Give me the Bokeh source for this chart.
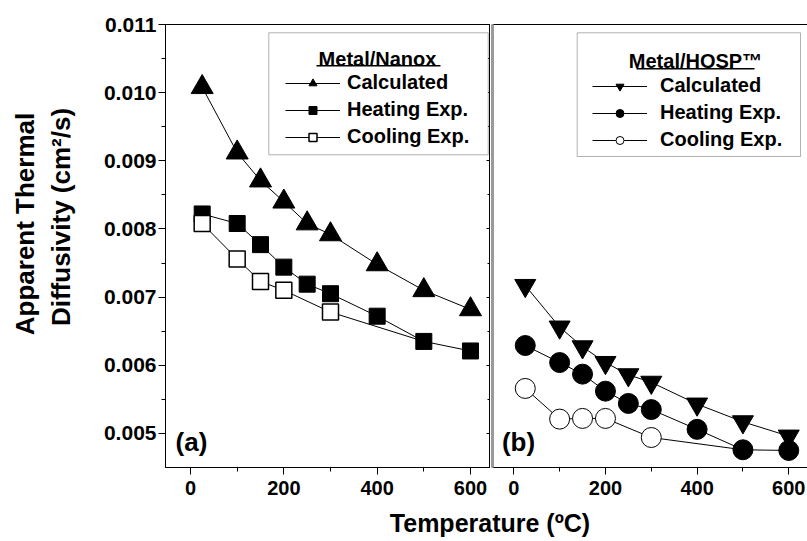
from bokeh.plotting import figure
from bokeh.models import (Range1d, FixedTicker, LinearAxis, NumeralTickFormatter, Legend, LegendItem,
                          Label, BoxAnnotation, ColumnDataSource, CDSView, IndexFilter, Div,
                          CustomJSTickFormatter)
from bokeh.layouts import row, column
from bokeh.embed import file_html
from bokeh.resources import INLINE
import math

FONT = "Liberation Sans"

# ---------------- data ----------------
# Panel (a): Metal/Nanox
temp_a_calc = [25, 100, 150, 200, 250, 300, 400, 500, 600]
diff_a_calc = [0.01008, 0.00912, 0.00871, 0.00840, 0.00808, 0.00792, 0.00748, 0.00710, 0.00682]
temp_a_heat = [25, 100, 150, 200, 250, 300, 400, 500, 600]
diff_a_heat = [0.00822, 0.00808, 0.00777, 0.00744, 0.00719, 0.00705, 0.00672, 0.00635, 0.00621]
temp_a_cool = [25, 100, 150, 200, 300, 500]
diff_a_cool = [0.00808, 0.00756, 0.00723, 0.00710, 0.00678, 0.00635]

# Panel (b): Metal/HOSP
temp_b_calc = [25, 100, 150, 200, 250, 300, 400, 500, 600]
diff_b_calc = [0.00717, 0.00656, 0.00627, 0.00604, 0.00586, 0.00575, 0.00543, 0.00517, 0.00496]
temp_b_heat = [25, 100, 150, 200, 250, 300, 400, 500, 600]
diff_b_heat = [0.00629, 0.00604, 0.00587, 0.00562, 0.00544, 0.00535, 0.00506, 0.00476, 0.00475]
temp_b_cool = [25, 100, 150, 200, 300, 500]
diff_b_cool = [0.00566, 0.00521, 0.00522, 0.00522, 0.00494, 0.00476]

series_labels = ["Calculated", "Heating Exp.", "Cooling Exp."]
legend_title_a = "Metal/Nanox"
legend_title_b = "Metal/HOSP\u2122"
panel_label_a = "(a)"
panel_label_b = "(b)"
x_title = "Temperature (\u00baC)"
y_title_lines = ["Apparent Thermal", "Diffusivity (cm\u00b2/s)"]

x_ticks = [0, 200, 400, 600]
x_minor = [100, 300, 500]
y_ticks = [0.005, 0.006, 0.007, 0.008, 0.009, 0.010, 0.011]
y_minor = [0.0055, 0.0065, 0.0075, 0.0085, 0.0095, 0.0105]

# ---------------- helpers ----------------
def style_axis(ax, major_out=7, minor_out=4, major_in=0, minor_in=0, size="20px"):
    ax.axis_line_color = "black"
    ax.axis_line_width = 1
    ax.major_tick_line_color = "black"
    ax.minor_tick_line_color = "black"
    ax.major_tick_out = major_out
    ax.minor_tick_out = minor_out
    ax.major_tick_in = major_in
    ax.minor_tick_in = minor_in
    ax.major_label_text_font = FONT
    ax.major_label_text_font_style = "bold"
    ax.major_label_text_font_size = size
    ax.major_label_text_color = "black"


def screen_box(left, right, top, bottom, **kw):
    return BoxAnnotation(left=left, right=right, top=top, bottom=bottom,
                         left_units="screen", right_units="screen",
                         top_units="screen", bottom_units="screen", **kw)


def screen_label(x, y, text, size, angle=0):
    return Label(x=x, y=y, x_units="screen", y_units="screen", text=text, angle=angle,
                 text_align="center", text_baseline="middle", text_font=FONT,
                 text_font_style="bold", text_font_size=size, text_color="black")


blank = CustomJSTickFormatter(code="return ''")
y_rng = Range1d(0.0045, 0.011)

# ---------------- y-axis title strip ----------------
p0 = figure(width=84, height=505, output_backend="svg", toolbar_location=None,
            x_axis_location=None, y_axis_location=None, min_border=0)
p0.grid.visible = False
p0.outline_line_color = None
p0.background_fill_color = "white"
p0.border_fill_color = "white"
p0.add_layout(screen_label(24, 243.5, y_title_lines[0], "26px", angle=math.pi / 2))
p0.add_layout(screen_label(60, 250.5, y_title_lines[1], "26px", angle=math.pi / 2))

# ---------------- panel (a) ----------------
p1 = figure(width=406, height=505, x_range=Range1d(-53.6, 642.9), y_range=y_rng,
            output_backend="svg", toolbar_location=None,
            min_border_left=81, min_border_right=0, min_border_top=24, min_border_bottom=38)
p1.grid.visible = False
p1.outline_line_color = "black"
p1.outline_line_width = 1
p1.background_fill_color = "white"
p1.border_fill_color = "white"

p1.xaxis.ticker = FixedTicker(ticks=x_ticks, minor_ticks=x_minor)
style_axis(p1.xaxis[0])
p1.xaxis.major_label_standoff = 6
p1.yaxis.ticker = FixedTicker(ticks=y_ticks, minor_ticks=y_minor)
p1.yaxis.formatter = NumeralTickFormatter(format="0.000")
style_axis(p1.yaxis[0], size="21px")
p1.yaxis.major_label_standoff = 2

ax_r = LinearAxis(ticker=FixedTicker(ticks=y_ticks, minor_ticks=y_minor), formatter=blank,
                  major_label_standoff=0)
style_axis(ax_r, major_out=0, minor_out=0, major_in=4, minor_in=3)
p1.add_layout(ax_r, "right")

src_a_calc = ColumnDataSource(dict(x=temp_a_calc, y=diff_a_calc))
src_a_heat = ColumnDataSource(dict(x=temp_a_heat, y=diff_a_heat))
src_a_cool = ColumnDataSource(dict(x=temp_a_cool, y=diff_a_cool))

la1 = p1.line("x", "y", source=src_a_calc, line_color="black", line_width=1)
la2 = p1.line("x", "y", source=src_a_heat, line_color="black", line_width=1)
la3 = p1.line("x", "y", source=src_a_cool, line_color="black", line_width=1)
sa1 = p1.scatter("x", "y", source=src_a_calc, marker="triangle", size=22,
                 fill_color="black", line_color="black")
sa2 = p1.scatter("x", "y", source=src_a_heat, marker="square", size=16,
                 fill_color="black", line_color="black")
sa3 = p1.scatter("x", "y", source=src_a_cool, marker="square", size=16,
                 fill_color="white", line_color="black", line_width=1.5,
                 view=CDSView(filter=IndexFilter(list(range(len(temp_a_cool) - 1)))))

p1.add_layout(screen_box(103.3, 322.7, 434.7, 312.7, fill_color="white", fill_alpha=1,
                         line_color="black", line_width=1))
p1.add_layout(screen_label(212, 409, legend_title_a, "20px"))
p1.add_layout(screen_box(151, 275, 402.5, 401, fill_color="black", fill_alpha=1, line_color=None))
leg_a = Legend(items=[LegendItem(label=series_labels[0], renderers=[la1, sa1]),
                      LegendItem(label=series_labels[1], renderers=[la2, sa2]),
                      LegendItem(label=series_labels[2], renderers=[la3, sa3])],
               location=(120, 319), orientation="vertical", padding=0, margin=0, spacing=4,
               glyph_width=55, glyph_height=20, label_standoff=7, label_height=20,
               border_line_color=None, background_fill_alpha=0,
               label_text_font=FONT, label_text_font_style="bold",
               label_text_font_size="20px", label_text_color="black")
p1.add_layout(leg_a)
p1.add_layout(screen_label(26, 26, panel_label_a, "26px"))

# ---------------- panel (b) ----------------
p2 = figure(width=317, height=505, x_range=Range1d(-46.5, 640.9), y_range=y_rng,
            output_backend="svg", toolbar_location=None,
            min_border_left=2, min_border_right=0, min_border_top=24, min_border_bottom=38)
p2.grid.visible = False
p2.outline_line_color = None
p2.background_fill_color = "white"
p2.border_fill_color = "white"

p2.xaxis.ticker = FixedTicker(ticks=x_ticks, minor_ticks=x_minor)
style_axis(p2.xaxis[0])
p2.xaxis.major_label_standoff = 6
p2.yaxis.ticker = FixedTicker(ticks=[], minor_ticks=[])
p2.yaxis.formatter = blank
p2.yaxis.axis_line_color = "#9a9a9a"
p2.yaxis.axis_line_width = 3
p2.yaxis.major_label_standoff = 0
ax_top = LinearAxis(ticker=FixedTicker(ticks=[], minor_ticks=[]), formatter=blank,
                    axis_line_color="black", axis_line_width=1, major_label_standoff=0)
p2.add_layout(ax_top, "above")

src_b_calc = ColumnDataSource(dict(x=temp_b_calc, y=diff_b_calc))
src_b_heat = ColumnDataSource(dict(x=temp_b_heat, y=diff_b_heat))
src_b_cool = ColumnDataSource(dict(x=temp_b_cool, y=diff_b_cool))

lb1 = p2.line("x", "y", source=src_b_calc, line_color="black", line_width=1)
lb2 = p2.line("x", "y", source=src_b_heat, line_color="black", line_width=1)
lb3 = p2.line("x", "y", source=src_b_cool, line_color="black", line_width=1)
sb1 = p2.scatter("x", "y", source=src_b_calc, marker="inverted_triangle", size=21,
                 fill_color="black", line_color="black")
sb2 = p2.scatter("x", "y", source=src_b_heat, marker="circle", size=20,
                 fill_color="black", line_color="black")
sb3 = p2.scatter("x", "y", source=src_b_cool, marker="circle", size=20,
                 fill_color="white", line_color="black", line_width=1,
                 view=CDSView(filter=IndexFilter(list(range(len(temp_b_cool) - 1)))))

p2.add_layout(screen_box(84.7, 308, 434.7, 311, fill_color="white", fill_alpha=1,
                         line_color="black", line_width=1))
p2.add_layout(screen_label(203, 407, legend_title_b, "20px"))
p2.add_layout(screen_box(144, 262, 399.5, 398, fill_color="black", fill_alpha=1, line_color=None))
leg_b = Legend(items=[LegendItem(label=series_labels[0], renderers=[lb1, sb1]),
                      LegendItem(label=series_labels[1], renderers=[lb2, sb2]),
                      LegendItem(label=series_labels[2], renderers=[lb3, sb3])],
               location=(100, 316), orientation="vertical", padding=0, margin=0, spacing=4,
               glyph_width=55, glyph_height=20, label_standoff=13, label_height=20,
               border_line_color=None, background_fill_alpha=0,
               label_text_font=FONT, label_text_font_style="bold",
               label_text_font_size="20px", label_text_color="black")
p2.add_layout(leg_b)
p2.add_layout(screen_label(26, 26, panel_label_b, "26px"))

# ---------------- shared x title ----------------
xtitle = Div(text=x_title, width=400, height=36, margin=(0, 0, 0, 290),
             styles={"font-family": FONT, "font-weight": "bold", "font-size": "25px",
                     "text-align": "center", "line-height": "36px", "color": "black"})

layout = column(row(p0, p1, p2), xtitle)

open("out.html", "w").write(file_html(layout, INLINE))
